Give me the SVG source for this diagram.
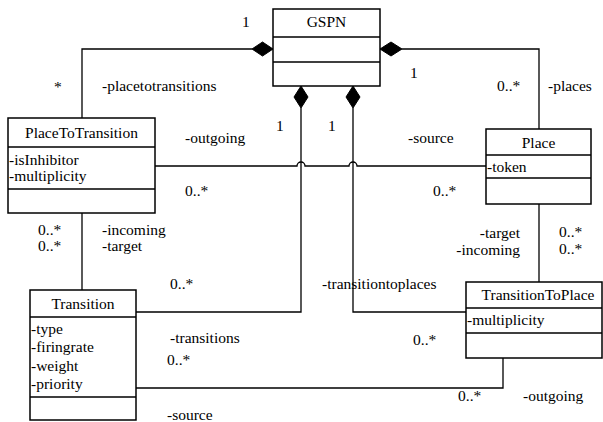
<svg xmlns="http://www.w3.org/2000/svg" width="603" height="422" viewBox="0 0 603 422">
<style>
text{font-family:"Liberation Serif","Times New Roman",serif;font-size:15.5px;fill:#000}
.n{text-anchor:middle}
.r{text-anchor:end}
.box{fill:#fff;stroke:#000;stroke-width:1.5}
.ln{fill:none;stroke:#000;stroke-width:1.3}
.dm{fill:#000;stroke:#000;stroke-width:1}
</style>
<rect width="603" height="422" fill="#fff"/>
<g id="connectors">
<path class="ln" d="M252,49 H82 V118"/>
<polygon class="dm" points="273,49 262.5,42 252,49 262.5,56"/>
<path class="ln" d="M402,49 H539 V129"/>
<polygon class="dm" points="380,49 391,42 402,49 391,56"/>
<path class="ln" d="M301,108 V312 H136"/>
<polygon class="dm" points="301,86 308,97 301,108 294,97"/>
<path class="ln" d="M353,108 V312 H466"/>
<polygon class="dm" points="353,86 360,97 353,108 346,97"/>
<path class="ln" d="M155,166 H297 A4,4 0 0 1 305,166 H349 A4,4 0 0 1 357,166 H486"/>
<path class="ln" d="M82,213 V290"/>
<path class="ln" d="M539,204 V282"/>
<path class="ln" d="M136,388 H503 V358"/>
<text x="242" y="27">1</text>
<text x="54" y="92">*</text>
<text x="102" y="91">-placetotransitions</text>
<text x="276" y="131">1</text>
<text x="328" y="131">1</text>
<text x="185" y="143">-outgoing</text>
<text x="408" y="143">-source</text>
<text x="185" y="196">0..*</text>
<text x="433" y="196">0..*</text>
<text x="410" y="78">1</text>
<text x="497" y="91">0..*</text>
<text x="548" y="91">-places</text>
<text x="38" y="235">0..*</text>
<text x="38" y="251">0..*</text>
<text x="102" y="235">-incoming</text>
<text x="102" y="251">-target</text>
<text class="r" x="520" y="238">-target</text>
<text class="r" x="520" y="255">-incoming</text>
<text x="559" y="237">0..*</text>
<text x="559" y="254">0..*</text>
<text x="170" y="289">0..*</text>
<text x="322" y="289">-transitiontoplaces</text>
<text x="170" y="343">-transitions</text>
<text x="167" y="365">0..*</text>
<text x="413" y="345">0..*</text>
<text x="458" y="401">0..*</text>
<text x="523" y="401">-outgoing</text>
<text x="167" y="420">-source</text>
</g>
<g id="GSPN">
<rect class="box" x="273" y="9" width="107" height="77"/>
<path class="ln" d="M273,37 H380 M273,62 H380"/>
<text class="n" x="326.5" y="27">GSPN</text>
</g>
<g id="PlaceToTransition">
<rect class="box" x="8" y="118" width="147" height="95"/>
<path class="ln" d="M8,147 H155 M8,189 H155"/>
<text class="n" x="81.5" y="138">PlaceToTransition</text>
<text x="9" y="165">-isInhibitor</text>
<text x="9" y="181">-multiplicity</text>
</g>
<g id="Place">
<rect class="box" x="486" y="129" width="105" height="75"/>
<path class="ln" d="M486,155 H591 M486,178 H591"/>
<text class="n" x="538.5" y="148">Place</text>
<text x="487" y="172">-token</text>
</g>
<g id="Transition">
<rect class="box" x="30" y="290" width="106" height="130"/>
<path class="ln" d="M30,317 H136 M30,397 H136"/>
<text class="n" x="83" y="309">Transition</text>
<text x="31" y="334">-type</text>
<text x="31" y="352">-firingrate</text>
<text x="31" y="371">-weight</text>
<text x="31" y="389">-priority</text>
</g>
<g id="TransitionToPlace">
<rect class="box" x="466" y="282" width="136" height="76"/>
<path class="ln" d="M466,308 H602 M466,333 H602"/>
<text class="n" x="538" y="300">TransitionToPlace</text>
<text x="467" y="325">-multiplicity</text>
</g>
</svg>
